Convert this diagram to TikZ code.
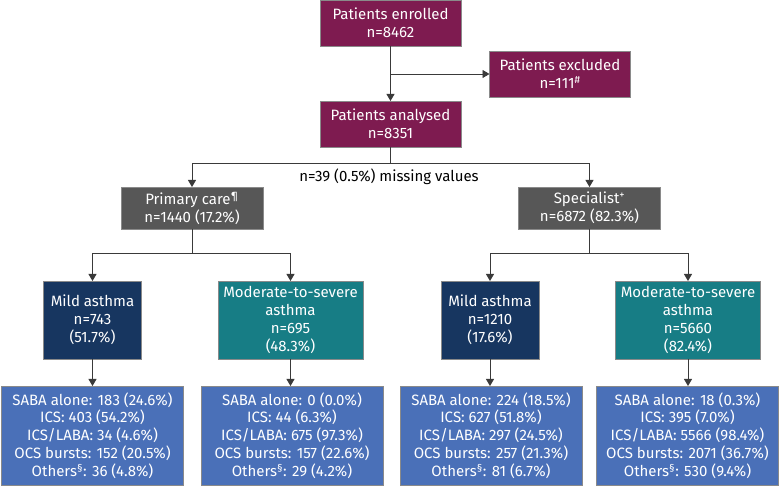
\documentclass[tikz,border=0pt]{standalone}
\usepackage{fontspec}
\setmainfont{Fira Sans}
\usetikzlibrary{positioning,arrows.meta}
\definecolor{maroon}{HTML}{7E1B50}
\definecolor{darkgrey}{HTML}{575757}
\definecolor{navy}{HTML}{173660}
\definecolor{teal}{HTML}{177D85}
\definecolor{midblue}{HTML}{4A70B8}
\definecolor{edge}{HTML}{8A8A8A}
\definecolor{linecol}{HTML}{3A3A3A}

\begin{document}
\begin{tikzpicture}[
    x=1pt, y=-1pt,
    font=\fontsize{15}{17.8}\selectfont,
 mybox/.style = {
        draw=edge, line width=0.6pt, rectangle, align=center,
        text=white, inner sep=1pt, outer sep=0pt},
 patbox/.style = {mybox, fill=maroon, minimum width=141pt, minimum height=46pt},
carebox/.style = {mybox, fill=darkgrey, minimum width=142pt, minimum height=42pt},
mildbox/.style = {mybox, fill=navy, minimum width=98pt, minimum height=78pt},
 modbox/.style = {mybox, fill=teal, minimum width=145pt, minimum height=78pt},
 medbox/.style = {mybox, fill=midblue, minimum width=182pt, minimum height=99pt},
     line/.style = {draw=linecol, line width=0.9pt},
    arrow/.style = {line, -{Triangle[width=8pt,length=7pt]}}
                    ]
\useasboundingbox (0,0) rectangle (780,486);
% the patient boxes at the top
\node (enr) [patbox] at (390.5,23)  {Patients enrolled\\ n=8462};
\node (exc) [patbox] at (560,74)    {Patients excluded\\ n=111\textsuperscript{\#}};
\node (ana) [patbox] at (390.5,124) {Patients analysed\\ n=8351};
% the care settings
\node (pri) [carebox] at (192,208)   {Primary care\textsuperscript{¶}\\ n=1440 (17.2\%)};
\node (spe) [carebox] at (589.5,208) {Specialist\textsuperscript{+}\\ n=6872 (82.3\%)};
\node (miss) at (389,177) {n=39 (0.5\%) missing values};
% severity
\node (mild1) [mildbox] at (92.5,320) {Mild asthma\\ n=743\\ (51.7\%)};
\node (mod1)  [modbox]  at (290.5,320) {Moderate-to-severe\\ asthma\\ n=695\\ (48.3\%)};
\node (mild2) [mildbox] at (490,320)  {Mild asthma\\ n=1210\\ (17.6\%)};
\node (mod2)  [modbox]  at (688,320)  {Moderate-to-severe\\ asthma\\ n=5660\\ (82.4\%)};
% medication
\node (med1) [medbox] at (92.5,435.5) {SABA alone: 183 (24.6\%)\\ ICS: 403 (54.2\%)\\
                                       ICS/LABA: 34 (4.6\%)\\ OCS bursts: 152 (20.5\%)\\
                                       Others\textsuperscript{§}: 36 (4.8\%)};
\node (med2) [medbox] at (292,435.5)  {SABA alone: 0 (0.0\%)\\ ICS: 44 (6.3\%)\\
                                       ICS/LABA: 675 (97.3\%)\\ OCS bursts: 157 (22.6\%)\\
                                       Others\textsuperscript{§}: 29 (4.2\%)};
\node (med3) [medbox] at (491,435.5)  {SABA alone: 224 (18.5\%)\\ ICS: 627 (51.8\%)\\
                                       ICS/LABA: 297 (24.5\%)\\ OCS bursts: 257 (21.3\%)\\
                                       Others\textsuperscript{§}: 81 (6.7\%)};
\node (med4) [medbox] at (687.5,435.5) {SABA alone: 18 (0.3\%)\\ ICS: 395 (7.0\%)\\
                                       ICS/LABA: 5566 (98.4\%)\\ OCS bursts: 2071 (36.7\%)\\
                                       Others\textsuperscript{§}: 530 (9.4\%)};
% split points
\coordinate (s0) at (390.5,163);
\coordinate (s1) at (192,253);
\coordinate (s2) at (589.5,253);
% connectors
\draw[arrow] (enr) -- (ana);
\draw[arrow] (enr.south |- exc.west) -- (exc.west);
\draw[line]  (ana) -- (s0);
\draw[arrow] (s0) -| (pri);
\draw[arrow] (s0) -| (spe);
\draw[line]  (pri) -- (s1);
\draw[arrow] (s1) -| (mild1);
\draw[arrow] (s1) -| (mod1);
\draw[line]  (spe) -- (s2);
\draw[arrow] (s2) -| (mild2);
\draw[arrow] (s2) -| (mod2);
\draw[arrow] (mild1) -- (med1);
\draw[arrow] (mod1.south)  -- (mod1.south |- med2.north);
\draw[arrow] (mild2.south) -- (mild2.south |- med3.north);
\draw[arrow] (mod2.south)  -- (mod2.south |- med4.north);
\end{tikzpicture}
\end{document}
